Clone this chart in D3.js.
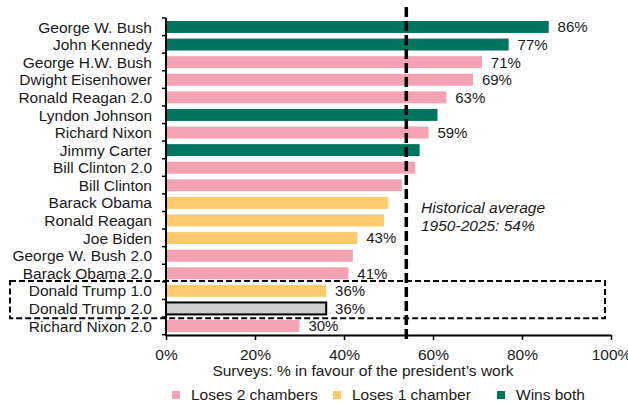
<!DOCTYPE html>
<html><head><meta charset="utf-8">
<script src="https://cdn.jsdelivr.net/npm/d3@7"></script>
<style>body{margin:0;background:#fff}svg{display:block}text{font-family:Arial,"Liberation Sans",sans-serif}</style>
</head><body><svg id="c" width="628" height="406"></svg>
<script>
const presidents = ["George W. Bush","John Kennedy","George H.W. Bush","Dwight Eisenhower","Ronald Reagan 2.0","Lyndon Johnson","Richard Nixon","Jimmy Carter","Bill Clinton 2.0","Bill Clinton","Barack Obama","Ronald Reagan","Joe Biden","George W. Bush 2.0","Barack Obama 2.0","Donald Trump 1.0","Donald Trump 2.0","Richard Nixon 2.0"];
const approval = [86,77,71,69,63,61,59,57,56,53,50,49,43,42,41,36,36,30];
const shownLabels = ["86%","77%","71%","69%","63%",null,"59%",null,null,null,null,null,"43%",null,"41%","36%","36%","30%"];
const outcome = ["wins","wins","loses2","loses2","loses2","wins","loses2","wins","loses2","loses2","loses1","loses1","loses1","loses2","loses2","loses1","current","loses2"];
const outcomeKeys = ["loses2","loses1","wins","current"];
const legendLabels = ["Loses 2 chambers","Loses 1 chamber","Wins both"];
const xTicks = [0,20,40,60,80,100];
const historicalAverage = 54;
const highlighted = ["Donald Trump 1.0","Donald Trump 2.0"];
const annotationLines = ["Historical average","1950-2025: 54%"];
const axisTitle = "Surveys: % in favour of the president\u2019s work";

const FS = 15.5;
const colors = d3.scaleOrdinal().domain(outcomeKeys).range(["#f4a3b3","#fdcb6e","#00745f","#cfcfcf"]);
const svg = d3.select("#c");
const x = d3.scaleLinear().domain([0,100]).range([166,611]);
const y = d3.scaleBand().domain(presidents).range([18,335]).paddingInner(0.32).paddingOuter(0.17);
const data = presidents.map((p,i)=>({p, v:approval[i], lab:shownLabels[i], o:outcome[i]}));

// bars
svg.append("g").selectAll("rect").data(data).join("rect")
  .attr("x", x(0)).attr("y", d=>y(d.p)).attr("height", y.bandwidth())
  .attr("width", d=>x(d.v)-x(0))
  .attr("fill", d=>colors(d.o))
  .attr("stroke", d=>d.o==="current"?"#000":"none")
  .attr("stroke-width", 2);

// value labels
svg.append("g").selectAll("text").data(data.filter(d=>d.lab)).join("text")
  .attr("x", d=>x(d.v+2)).attr("y", d=>y(d.p)+y.bandwidth()/2)
  .attr("dy","0.36em").attr("font-size",15).attr("fill","#1a1a1a").text(d=>d.lab);

// y axis
const yAxis = svg.append("g");
yAxis.append("line").attr("x1",x(0)).attr("x2",x(0)).attr("y1",18).attr("y2",336).attr("stroke","#000").attr("stroke-width",2);
const step = y.step();
const bounds = d3.range(presidents.length+1).map(k=>18+k*step);
yAxis.selectAll("line.t").data(bounds).join("line").attr("class","t")
  .attr("x1",x(0)-4).attr("x2",x(0)).attr("y1",d=>d).attr("y2",d=>d).attr("stroke","#000").attr("stroke-width",1.5);
yAxis.selectAll("text").data(presidents).join("text")
  .attr("x",152).attr("y",d=>y(d)+y.bandwidth()/2).attr("dy","0.36em")
  .attr("text-anchor","end").attr("font-size",FS).attr("fill","#1a1a1a").text(d=>d);

// x axis
const xa = svg.append("g").attr("transform","translate(0,335)")
  .call(d3.axisBottom(x).tickValues(xTicks).tickFormat(d=>d+"%").tickSize(5).tickPadding(9).tickSizeOuter(0));
xa.select(".domain").attr("stroke","#000").attr("stroke-width",2);
xa.selectAll(".tick line").attr("stroke","#000").attr("stroke-width",1.5);
xa.selectAll(".tick text").attr("font-size",FS).attr("fill","#1a1a1a").attr("font-family","Arial,'Liberation Sans',sans-serif");

svg.append("text").attr("x",363).attr("y",376).attr("text-anchor","middle").attr("font-size",FS).attr("fill","#1a1a1a").text(axisTitle);

// highlight box
const hTop = y(highlighted[0]) - (step - y.bandwidth())/2 - 1;
const hBot = y(highlighted[1]) + y.bandwidth() + (step - y.bandwidth())/2 + 1;
svg.append("rect").attr("x",10).attr("y",hTop).attr("width",605-10).attr("height",hBot-hTop)
  .attr("fill","none").attr("stroke","#000").attr("stroke-width",2).attr("stroke-dasharray","6,3");

// average line
svg.append("line").attr("x1",x(historicalAverage)).attr("x2",x(historicalAverage)).attr("y1",7).attr("y2",341)
  .attr("stroke","#000").attr("stroke-width",3.5).attr("stroke-dasharray","10,4");

// annotation
svg.append("text").attr("x",421).attr("y",213).attr("font-size",FS).attr("font-style","italic").attr("fill","#1a1a1a")
  .selectAll("tspan").data(annotationLines).join("tspan").attr("x",421).attr("dy",(d,i)=>i?18:0).text(d=>d);

// legend
const legX = [172,333,497];
const lg = svg.append("g");
legendLabels.forEach((l,i)=>{
  lg.append("rect").attr("x",legX[i]).attr("y",391).attr("width",8).attr("height",8).attr("fill",colors(outcomeKeys[i]));
  lg.append("text").attr("x",legX[i]+19).attr("y",400).attr("font-size",FS).attr("fill","#1a1a1a").text(l);
});
</script></body></html>
